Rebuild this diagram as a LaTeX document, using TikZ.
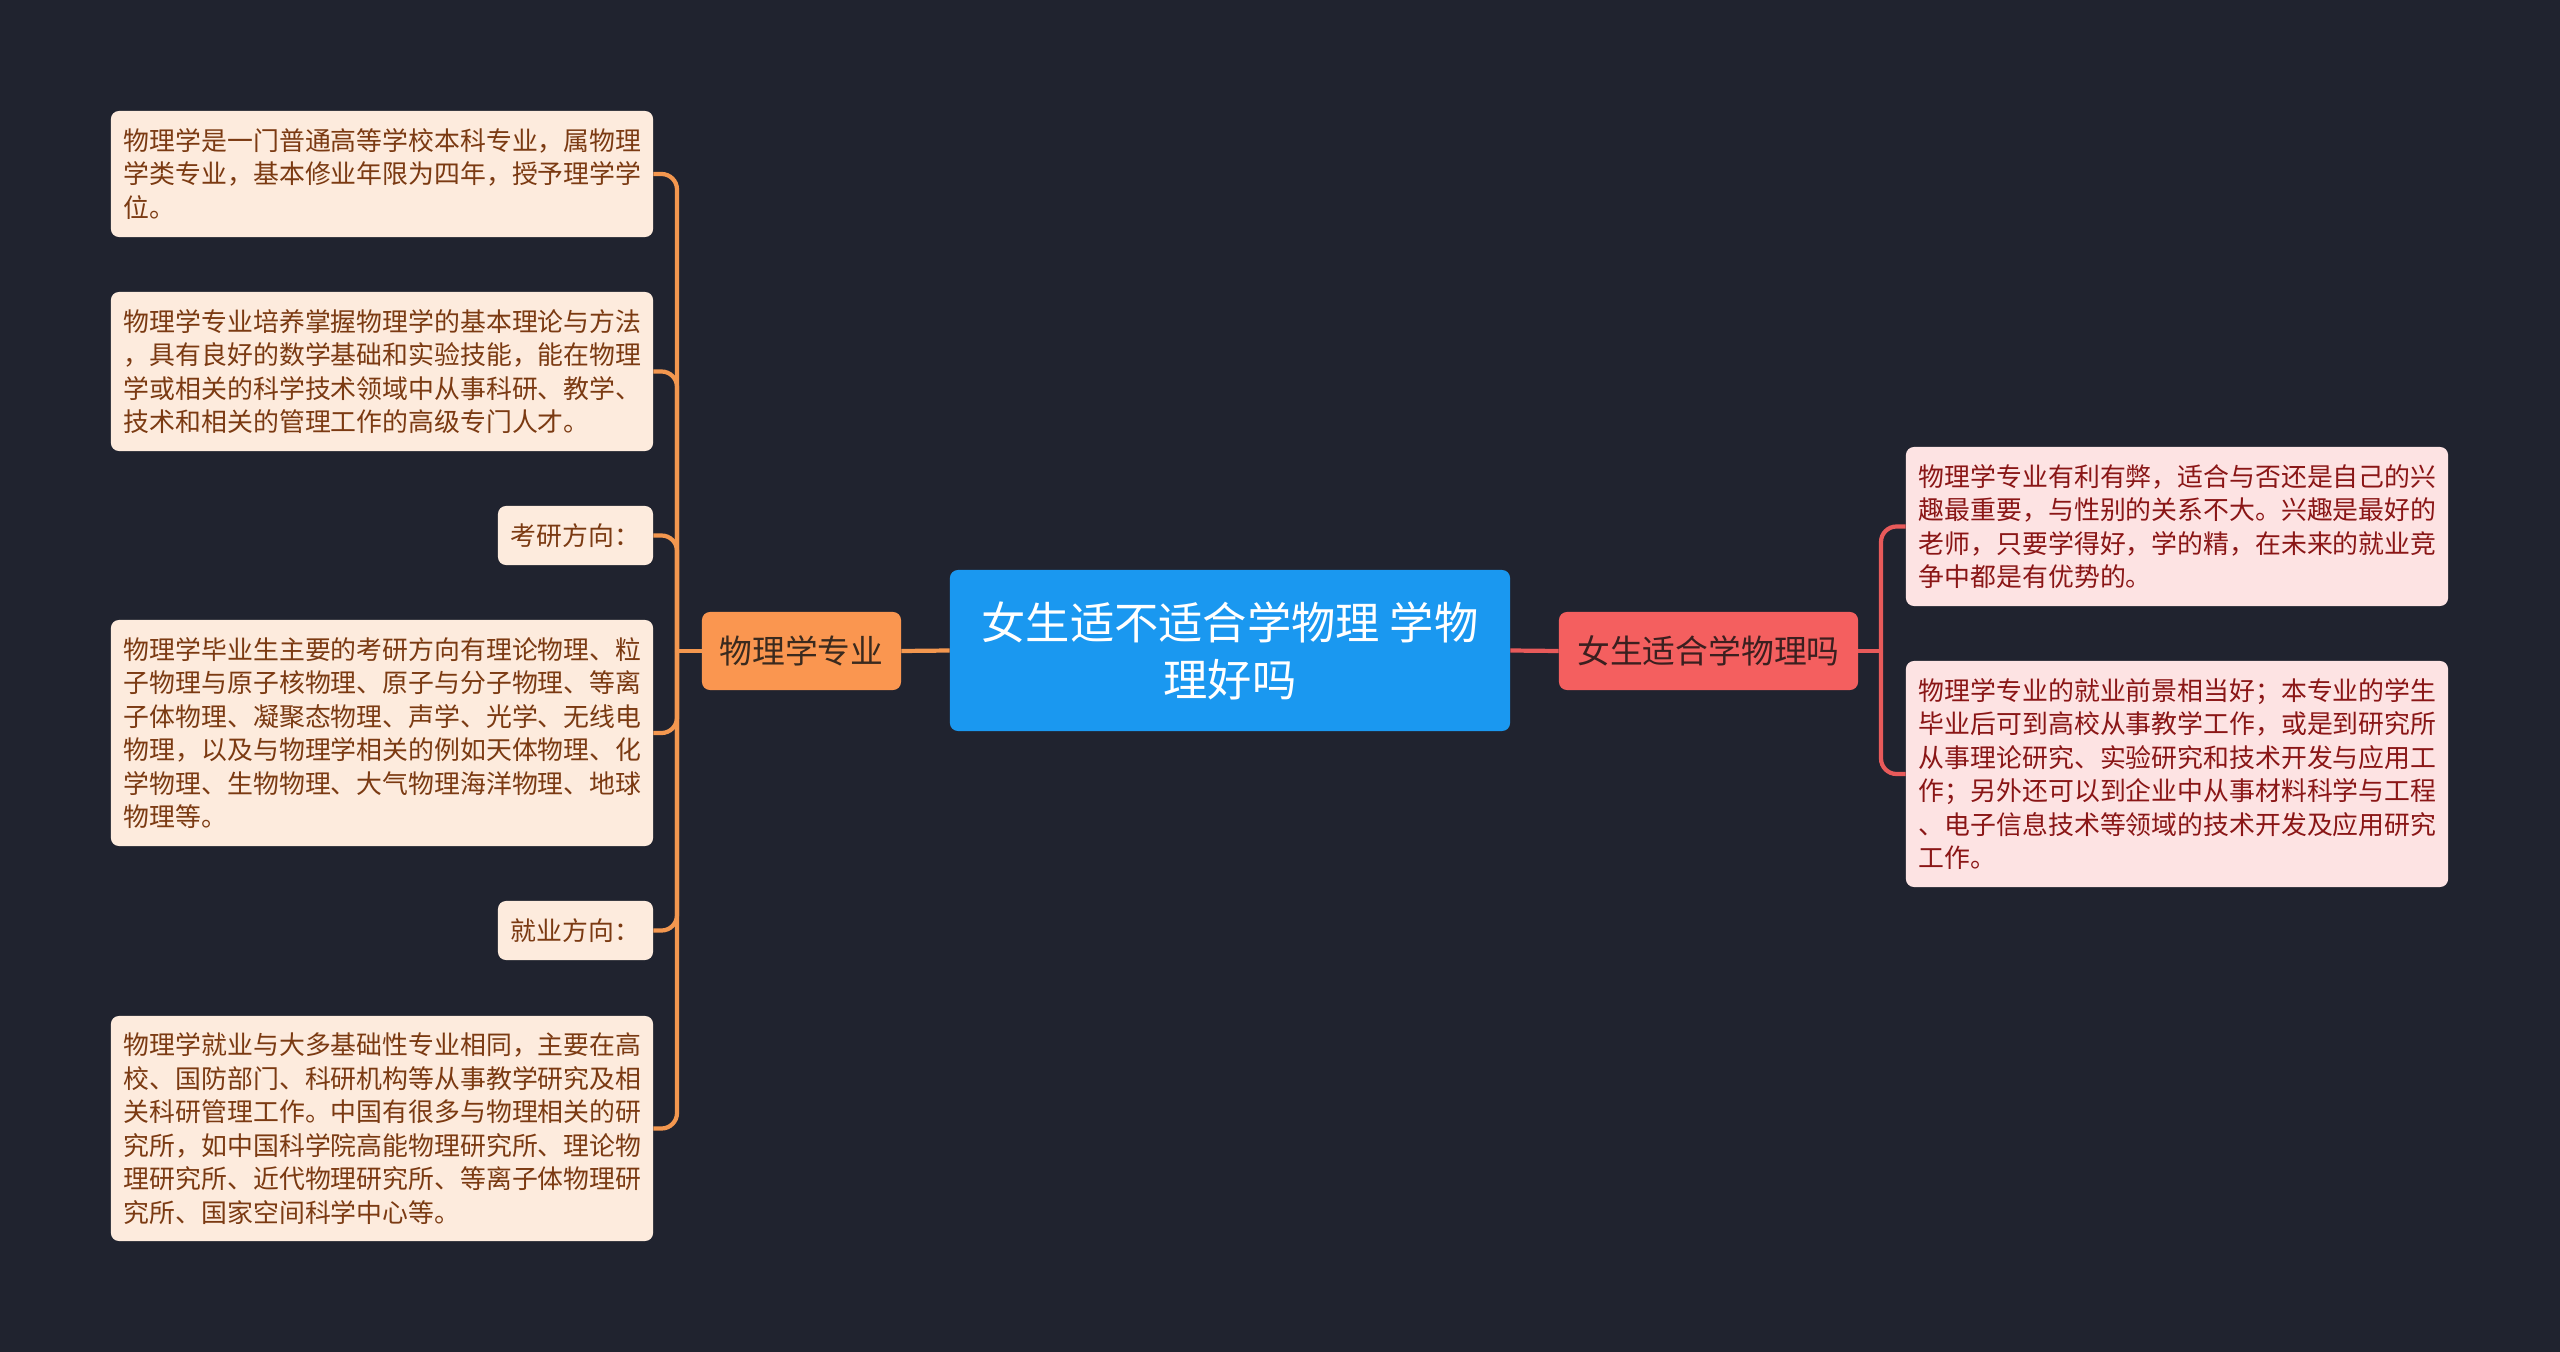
\documentclass[tikz,border=0pt]{standalone}
\usepackage{fontspec}
\newfontfamily\cjk{Noto Sans CJK SC}
\definecolor{bgc}{HTML}{20232F}
\definecolor{bluec}{HTML}{1A98F0}
\definecolor{orangec}{HTML}{FA9650}
\definecolor{oline}{HTML}{F3974F}
\definecolor{lfill}{HTML}{FDEBDD}
\definecolor{ltext}{HTML}{7B3A12}
\definecolor{otext}{HTML}{3A2A1E}
\definecolor{redc}{HTML}{F45F5F}
\definecolor{rline}{HTML}{E85A5A}
\definecolor{rfill}{HTML}{FDE3E3}
\definecolor{rtext}{HTML}{8A1616}
\definecolor{redtext}{HTML}{3B1F1F}
\tikzset{
  boxbase/.style={rounded corners=5.7pt, inner ysep=0pt, anchor=center},
  txtbox/.style={boxbase, inner xsep=9.25pt, text width=12.9cm, align=left,
    font=\cjk\fontsize{18.4pt}{23.8pt}\selectfont},
  lbox/.style={txtbox, fill=lfill, text=ltext},
  rbox/.style={txtbox, fill=rfill, text=rtext},
  kbox/.style={boxbase, fill=lfill, text=ltext, inner xsep=0pt, align=center,
    minimum width=3.875cm, minimum height=1.475cm,
    font=\cjk\fontsize{18.4pt}{23.8pt}\selectfont},
  orangenode/.style={boxbase, fill=orangec, text=otext, minimum width=4.975cm,
    minimum height=1.95cm, font=\cjk\fontsize{23.3pt}{28pt}\selectfont},
  rednode/.style={boxbase, fill=redc, text=redtext, minimum width=7.475cm,
    minimum height=1.95cm, font=\cjk\fontsize{23.3pt}{28pt}\selectfont},
  rootnode/.style={boxbase, fill=bluec, text=white, minimum width=14cm,
    minimum height=4.025cm, align=center,
    font=\cjk\fontsize{31.5pt}{40.5pt}\selectfont},
  oconn/.style={draw=oline, line width=3pt, rounded corners=11pt},
  rconn/.style={draw=rline, line width=3pt, rounded corners=11pt},
}
\begin{document}
\begin{tikzpicture}[x=0.025cm,y=-0.025cm]
\fill[bgc] (0,0) rectangle (2560,1352);
\useasboundingbox (0,0) rectangle (2560,1352);

% root
\node[rootnode] (root) at (1230,650.5) {女生适不适合学物理 学物\\理好吗};

% main branches
\node[orangenode] (maj) at (801.5,651) {物理学专业};
\node[rednode] (girl) at (1708.5,651) {女生适合学物理吗};

% left leaves
\node[lbox, minimum height=3.15cm] (l1) at (382,174) {物理学是一门普通高等学校本科专业，属物理\\学类专业，基本修业年限为四年，授予理学学\\位。};
\node[lbox, minimum height=3.975cm] (l2) at (382,371.5) {物理学专业培养掌握物理学的基本理论与方法\\，具有良好的数学基础和实验技能，能在物理\\学或相关的科学技术领域中从事科研、教学、\\技术和相关的管理工作的高级专门人才。};
\node[kbox] (k1) at (575.5,535.5) {考研方向：};
\node[lbox, minimum height=5.65cm] (l3) at (382,733) {物理学毕业生主要的考研方向有理论物理、粒\\子物理与原子核物理、原子与分子物理、等离\\子体物理、凝聚态物理、声学、光学、无线电\\物理，以及与物理学相关的例如天体物理、化\\学物理、生物物理、大气物理海洋物理、地球\\物理等。};
\node[kbox] (k2) at (575.5,930.5) {就业方向：};
\node[lbox, minimum height=5.625cm] (l4) at (382,1128.5) {物理学就业与大多基础性专业相同，主要在高\\校、国防部门、科研机构等从事教学研究及相\\关科研管理工作。中国有很多与物理相关的研\\究所，如中国科学院高能物理研究所、理论物\\理研究所、近代物理研究所、等离子体物理研\\究所、国家空间科学中心等。};

% right leaves
\node[rbox, minimum height=3.975cm] (r1) at (2177,526.5) {物理学专业有利有弊，适合与否还是自己的兴\\趣最重要，与性别的关系不大。兴趣是最好的\\老师，只要学得好，学的精，在未来的就业竞\\争中都是有优势的。};
\node[rbox, minimum height=5.65cm] (r2) at (2177,774) {物理学专业的就业前景相当好；本专业的学生\\毕业后可到高校从事教学工作，或是到研究所\\从事理论研究、实验研究和技术开发与应用工\\作；另外还可以到企业中从事材料科学与工程\\、电子信息技术等领域的技术开发及应用研究\\工作。};

% connectors
\draw[oconn] (root.west) -- (maj.east);
\draw[rconn] (root.east) -- (girl.west);

\coordinate (lj) at (677,651);
\draw[oconn] (maj.west) -- (lj);
\foreach \n in {l1,l2,k1,l3,k2,l4} {
  \draw[oconn] (lj) |- (\n.east);
}

\coordinate (rj) at (1881,651);
\draw[rconn] (girl.east) -- (rj);
\foreach \n in {r1,r2} {
  \draw[rconn] (rj) |- (\n.west);
}
\end{tikzpicture}
\end{document}
